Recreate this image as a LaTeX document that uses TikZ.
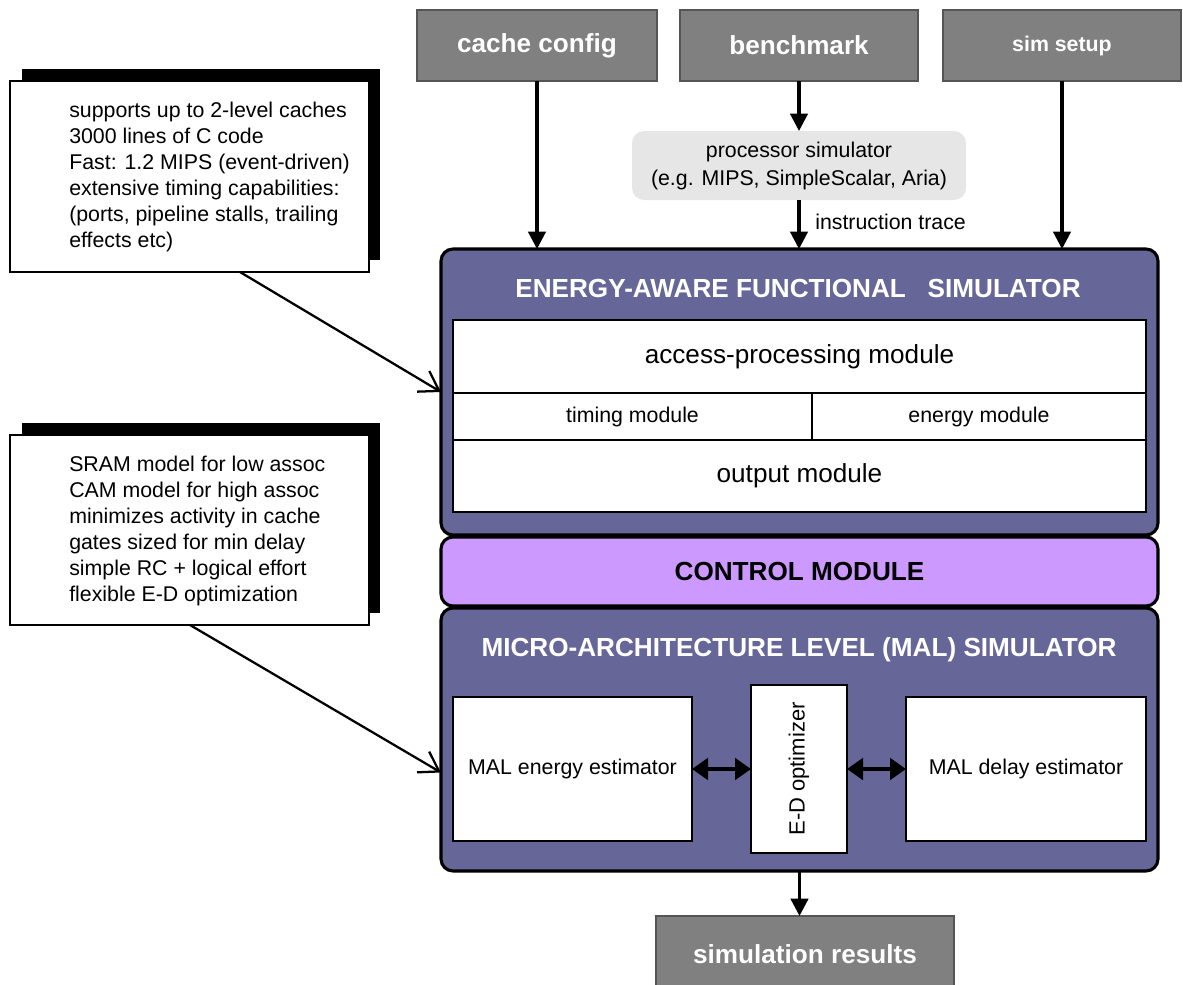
\documentclass[tikz,border=0pt]{standalone}
\usepackage{fontspec}
\setmainfont{Liberation Sans}
\usetikzlibrary{arrows.meta,calc}
\definecolor{purp}{HTML}{666699}
\definecolor{lav}{HTML}{CC99FF}
\definecolor{grayfill}{HTML}{808080}
\definecolor{grayedge}{HTML}{555555}
\definecolor{procfill}{HTML}{E6E6E6}
\newcommand{\fsmall}{\fontsize{16}{19.4}\selectfont}
\newcommand{\fbig}{\fontsize{19.6}{23}\selectfont}
\begin{document}
\begin{tikzpicture}[x=0.75pt,y=-0.75pt,
  sz/.style 2 args={minimum width=#1*0.75pt, minimum height=#2*0.75pt, inner sep=0pt, outer sep=0pt},
  inbox/.style={draw=grayedge, fill=grayfill, line width=1.1pt, text=white, font=\fbig\bfseries},
  bigbox/.style={draw=black, line width=2.3pt, rounded corners=9pt},
  wbox/.style={draw=black, fill=white, line width=1.6pt},
  title/.style={text=white, font=\fbig\bfseries, inner sep=0pt},
  notebox/.style={draw=black, fill=white, line width=1.5pt},
  shadowbox/.style={fill=black},
  notetext/.style={font=\fontsize{16}{19.5}\selectfont, align=left, anchor=west, inner sep=0pt},
  thickarrow/.style={line width=2.4pt, -{Triangle[length=13pt,width=13pt]}},
  dblarrow/.style={line width=3.3pt, {Triangle[length=12pt,width=16pt]}-{Triangle[length=12pt,width=16pt]}},
  notearrow/.style={line width=1.7pt, -{Straight Barb[length=14pt,width=18pt]}}
]
\useasboundingbox (0,0) rectangle (1183,985);

% input boxes
\node[inbox, sz={240}{71}] (cache) at (537,45.5) {cache config};
\node[inbox, sz={238}{71}] (bench) at (799,45.5) {benchmark};
\node[inbox, sz={238}{71}, font=\fsmall\bfseries] (simset) at (1062,45.5) {sim setup};
\node[fill=procfill, rounded corners=9pt, sz={334}{69}, align=center, font=\fontsize{16}{21}\selectfont] (proc) at (799,165.5) {processor simulator\\(e.g. MIPS, SimpleScalar, Aria)};

% energy-aware functional simulator
\node[bigbox, fill=purp, sz={717}{286}] (efs) at (799.5,392) {};
\node[title] (efst) at (798,289) {ENERGY-AWARE FUNCTIONAL\ \ \ SIMULATOR};
\node[wbox, sz={693}{73}, font=\fbig] (ap) at (799.5,356.5) {access-processing module};
\node[wbox, sz={359}{47}, font=\fsmall] (tm) at (632.5,416.5) {timing module};
\node[wbox, sz={334}{47}, font=\fsmall] (em) at (979,416.5) {energy module};
\node[wbox, sz={693}{72}, font=\fbig] (om) at (799.5,476) {output module};

% control module
\node[bigbox, fill=lav, sz={717}{69}, font=\fbig\bfseries] (ctrl) at (799.5,571.5) {CONTROL MODULE};

% MAL simulator
\node[bigbox, fill=purp, sz={717}{263}] (mal) at (799.5,739.5) {};
\node[title] (malt) at (799,650) {MICRO-ARCHITECTURE LEVEL (MAL) SIMULATOR};
\node[wbox, sz={239}{144}, font=\fsmall] (mee) at (572.5,769) {MAL energy estimator};
\node[wbox, sz={96}{168}] (ed) at (799,769) {};
\node[rotate=90, font=\fontsize{16.5}{20}\selectfont, inner sep=0pt] (edt) at (ed.center) {E-D optimizer};
\node[wbox, sz={240}{144}, font=\fsmall] (mde) at (1026,769) {MAL delay estimator};

% results
\node[inbox, sz={298}{76}] (res) at (805,954) {simulation results};

% note boxes
\node[shadowbox, sz={358}{191}] (n1s) at (201,164.5) {};
\node[notebox, sz={359}{191}] (n1) at (189.5,176.5) {};
\node[notetext] (n1t) at (69,177) {supports up to 2-level caches\\3000 lines of C code\\Fast: 1.2 MIPS (event-driven)\\extensive timing capabilities:\\(ports, pipeline stalls, trailing\\effects etc)};

\node[shadowbox, sz={358}{190}] (n2s) at (201,518) {};
\node[notebox, sz={359}{190}] (n2) at (189.5,530) {};
\node[notetext] (n2t) at (69,530.5) {SRAM model for low assoc\\CAM model for high assoc\\minimizes activity in cache\\gates sized for min delay\\simple RC + logical effort\\flexible E-D optimization};

% connectors
\draw[thickarrow] (cache.south) -- (cache.south |- efs.north);
\draw[thickarrow] (bench.south) -- (proc.north);
\draw[thickarrow] (proc.south) -- (proc.south |- efs.north)
  node[pos=0.45, anchor=west, inner sep=0pt, xshift=11pt, font=\fsmall] {instruction trace};
\draw[thickarrow] (simset.south) -- (simset.south |- efs.north);
\draw[thickarrow] (mal.south) -- (mal.south |- res.north);
\draw[dblarrow] (mee.east) -- (ed.west);
\draw[dblarrow] (ed.east) -- (mde.west);

\coordinate (n1a) at ($(n1.south)+(50.5,0)$);
\coordinate (n2a) at ($(n2.south)+(0.5,0)$);
\coordinate (malin) at ($(mal.west)+(0,33)$);
\draw[notearrow] (n1a) -- (efs.west);
\draw[notearrow] (n2a) -- (malin);
\end{tikzpicture}
\end{document}
